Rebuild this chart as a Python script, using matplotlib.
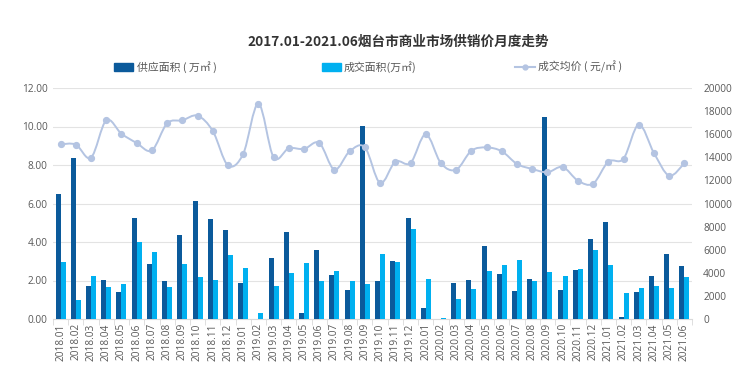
import numpy as np
import matplotlib
matplotlib.use("Agg")
import matplotlib.pyplot as plt
from matplotlib.path import Path
from matplotlib.patches import PathPatch, Rectangle
from matplotlib.lines import Line2D

plt.rcParams['font.family'] = ['Noto Sans CJK SC', 'DejaVu Sans']

months = [f"{y}.{m:02d}" for y in (2018, 2019, 2020, 2021) for m in range(1, 13)][:42]

supply = [6.5, 8.35, 1.7, 2.05, 1.4, 5.25, 2.85, 2.0, 4.35, 6.15, 5.2, 4.6,
          1.85, 0.0, 3.15, 4.5, 0.3, 3.6, 2.3, 1.5, 10.05, 1.95, 3.0, 5.25,
          0.55, 0.02, 1.85, 2.05, 3.8, 2.35, 1.45, 2.1, 10.5, 1.5, 2.55, 4.15,
          5.05, 0.12, 1.4, 2.25, 3.4, 2.75]
deal = [2.98, 1.0, 2.25, 1.65, 1.8, 3.98, 3.5, 1.65, 2.85, 2.2, 2.05, 3.35,
        2.65, 0.3, 1.7, 2.4, 2.9, 2.0, 2.5, 1.95, 1.8, 3.4, 2.95, 4.7,
        2.1, 0.05, 1.05, 1.55, 2.5, 2.8, 3.05, 2.0, 2.45, 2.25, 2.6, 3.6,
        2.8, 1.35, 1.6, 1.7, 1.6, 2.2]
price = [15120, 15100, 13970, 17200, 16040, 15240, 14600, 16940, 17200, 17600, 16280, 13300,
         14290, 18640, 14000, 14780, 14720, 15240, 12930, 14520, 14860, 11770, 13620, 13510,
         15990, 13480, 12930, 14570, 14850, 14520, 13420, 12990, 12700, 13160, 11980, 11720,
         13620, 13880, 16830, 14370, 12410, 13480]

title = "2017.01-2021.06烟台市商业市场供销价月度走势"
lbl_supply = "供应面积 ( 万㎡ )"
lbl_deal = "成交面积(万㎡)"
lbl_price = "成交均价 ( 元/㎡ )"

c_dark = "#0b5a9b"
c_light = "#00b0f0"
c_line = "#b4c4e2"
c_text = "#595959"
tick_font = ['Open Sans', 'DejaVu Sans']

W, H = 740, 368
fig = plt.figure(figsize=(7.4, 3.68), dpi=100)
ax = fig.add_axes([53 / W, 1 - 319 / H, (692 - 53) / W, (319 - 88) / H])
ax2 = ax.twinx()

x = np.arange(len(months))
w = 0.33
ax.bar(x - w / 2, supply, width=w, color=c_dark, zorder=3)
ax.bar(x + w / 2, deal, width=w, color=c_light, zorder=3)

ax.set_xlim(-0.5, len(months) - 0.5)
ax.set_ylim(0, 12)
yt = np.arange(0, 12.01, 2)
ax.set_yticks(yt)
ax.set_yticklabels([f"{v:.2f}" for v in yt], family=tick_font)
ax.set_xticks(x)
ax.set_xticklabels(months, rotation=90, family=tick_font)
ax.set_xticks(np.arange(-0.5, len(months), 1), minor=True)
ax.tick_params(axis='x', which='major', length=0, labelsize=7.3, labelcolor=c_text, pad=3)
ax.tick_params(axis='x', which='minor', length=4, color="#d9d9d9")
ax.tick_params(axis='y', length=0, labelsize=7.3, labelcolor=c_text, pad=4)
ax.grid(axis='y', color="#e3e3e3", linewidth=0.8, zorder=0)
ax.set_axisbelow(True)
for s in ['top', 'right', 'left']:
    ax.spines[s].set_visible(False)
ax.spines['bottom'].set_color("#d9d9d9")

ax2.set_ylim(0, 20000)
ax2.set_yticks(np.arange(0, 20001, 2000))
for t in ax2.get_yticklabels():
    t.set_family(tick_font)
ax2.tick_params(axis='y', length=0, labelsize=7.3, labelcolor=c_text, pad=8)
for s in ax2.spines.values():
    s.set_visible(False)

# smooth line via cubic Bezier (Catmull-Rom control points)
p = np.column_stack([x, price]).astype(float)
verts = [tuple(p[0])]
codes = [Path.MOVETO]
n = len(p)
for i in range(n - 1):
    p0 = p[i - 1] if i > 0 else p[i]
    p1 = p[i]
    p2 = p[i + 1]
    p3 = p[i + 2] if i + 2 < n else p[i + 1]
    c1 = p1 + (p2 - p0) / 6.0
    c2 = p2 - (p3 - p1) / 6.0
    verts += [tuple(c1), tuple(c2), tuple(p2)]
    codes += [Path.CURVE4] * 3
ax2.add_patch(PathPatch(Path(verts, codes), facecolor='none', edgecolor=c_line, lw=1.4, zorder=4))
ax2.plot(x, price, linestyle='none', marker='o', markersize=4.2, color=c_line, zorder=5)

fig.text(398 / W, 1 - 42 / H, title, ha='center', va='center', fontsize=9.8,
         fontweight='bold', color="#333333")

# legend (manual)
ly = 1 - 67 / H
fs = 7.8
fig.add_artist(Rectangle((114 / W, ly - 3.5 / H), 19 / W, 7 / H, transform=fig.transFigure,
                         color=c_dark))
fig.text(137 / W, ly, lbl_supply, ha='left', va='center', fontsize=fs, color=c_text)
fig.add_artist(Rectangle((322 / W, ly - 3.5 / H), 19 / W, 7 / H, transform=fig.transFigure,
                         color=c_light))
fig.text(344 / W, ly, lbl_deal, ha='left', va='center', fontsize=fs, color=c_text)
fig.add_artist(Line2D([515 / W, 535 / W], [ly, ly], transform=fig.transFigure,
                      color=c_line, lw=1.5))
fig.add_artist(Line2D([525 / W], [ly], transform=fig.transFigure, color=c_line,
                      marker='o', markersize=3.5, linestyle='none'))
fig.text(538 / W, ly, lbl_price, ha='left', va='center', fontsize=fs, color=c_text)

fig.savefig("out.png", dpi=100)
